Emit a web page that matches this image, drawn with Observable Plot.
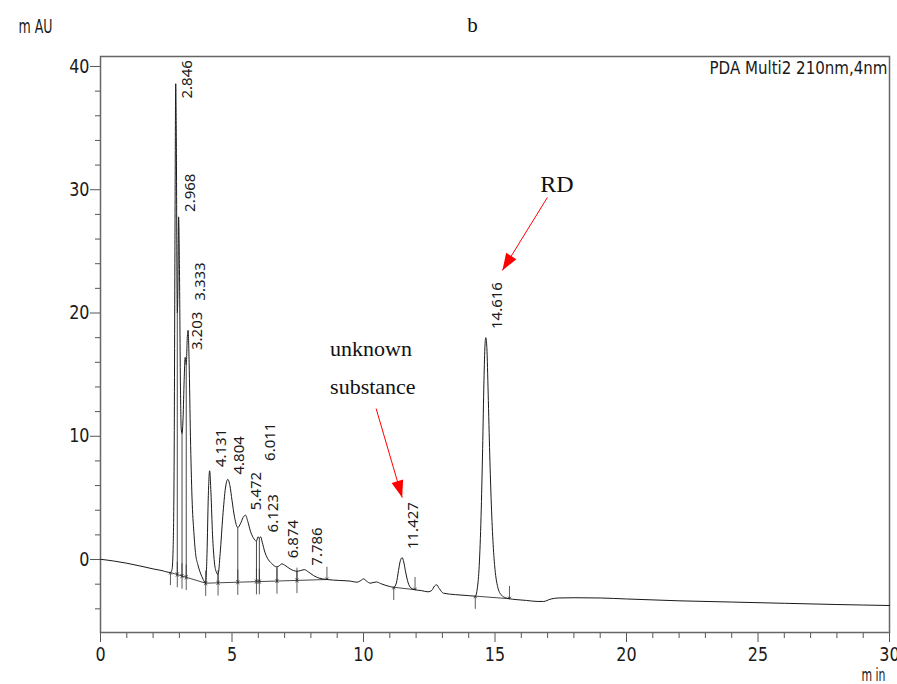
<!DOCTYPE html>
<html><head><meta charset="utf-8">
<script src="https://cdn.jsdelivr.net/npm/d3@7"></script>
<script src="https://cdn.jsdelivr.net/npm/@observablehq/plot@0.6"></script>
<style>
html,body{margin:0;padding:0;background:#fff;}
#chart{width:897px;height:684px;}
</style></head><body><div id="chart"></div>
<script>
// ---- data ----
const traceTime = [0.00,0.50,1.00,1.50,2.00,2.30,2.66,2.72,2.76,2.80,2.83,2.86,2.88,2.92,2.94,2.97,3.00,3.04,3.07,3.10,3.14,3.18,3.22,3.26,3.30,3.33,3.37,3.42,3.48,3.55,3.62,3.70,3.80,3.90,4.00,4.05,4.10,4.15,4.20,4.26,4.33,4.40,4.47,4.55,4.65,4.75,4.84,4.92,5.00,5.10,5.22,5.32,5.42,5.51,5.60,5.70,5.80,5.93,5.99,6.04,6.09,6.15,6.25,6.35,6.50,6.71,6.80,6.90,7.00,7.20,7.47,7.60,7.75,7.90,8.10,8.30,8.61,9.10,9.50,9.75,9.90,10.00,10.12,10.25,10.40,10.50,10.65,10.85,11.00,11.15,11.25,11.33,11.40,11.47,11.53,11.60,11.70,11.80,11.96,12.20,12.45,12.60,12.70,12.78,12.88,13.04,13.50,14.00,14.25,14.33,14.40,14.47,14.53,14.58,14.62,14.65,14.69,14.74,14.80,14.86,14.93,15.00,15.10,15.25,15.40,15.55,15.80,16.20,16.60,16.85,17.10,17.40,18.00,19.00,20.00,22.00,24.00,26.00,28.00,30.00];
const traceSignal = [0.02,-0.12,-0.30,-0.52,-0.76,-0.88,-1.05,-0.8,0.8,8,25,38.6,35,20,21.5,27.8,24,14,10.6,10.2,11.5,14.5,16.4,15.8,18.0,18.6,16,10,5,2.2,0.4,-0.4,-1.1,-1.6,-1.92,0.5,5.2,7.2,5.4,2.0,-0.2,-1.0,-1.2,0.5,3.5,5.8,6.5,6.0,4.8,3.4,2.6,2.9,3.4,3.6,3.1,2.3,1.8,1.5,1.85,1.7,1.85,1.4,0.6,0.1,-0.3,-0.6,-0.5,-0.35,-0.45,-0.75,-0.95,-0.9,-0.82,-1.0,-1.3,-1.5,-1.62,-1.7,-1.75,-1.84,-1.7,-1.57,-1.75,-1.92,-1.85,-1.82,-1.95,-2.1,-2.19,-2.25,-1.9,-0.9,-0.1,0.15,-0.2,-1.0,-1.9,-2.3,-2.45,-2.52,-2.62,-2.5,-2.15,-2.05,-2.35,-2.73,-2.85,-2.93,-2.97,-2.3,-0.5,3.5,9,14.5,17.4,18.0,17.2,13.5,8.5,4.5,1.2,-0.8,-2.2,-2.9,-3.1,-3.18,-3.25,-3.32,-3.4,-3.4,-3.22,-3.12,-3.1,-3.12,-3.2,-3.35,-3.45,-3.55,-3.65,-3.73];

// retention-time labels and the height at which each label starts
const peakTimes = [2.846,2.968,3.203,3.333,4.131,4.804,5.472,6.011,6.123,6.874,7.786,11.427,14.616];
const labelLevels = [37.4,28.2,17.0,21.0,7.5,6.9,4.0,8.0,2.2,0.1,-0.5,0.85,18.7];

// integration baseline segments (group, time, signal)
const baseGroup = [1,1,1,2,2,3,3];
const baseTime = [2.66,4.00,8.61,11.15,11.96,14.25,15.55];
const baseSignal = [-1.05,-1.92,-1.62,-2.25,-2.45,-2.97,-3.18];

// peak boundaries
const boundTime = [2.66,2.92,3.10,3.26,4.00,4.47,5.22,5.93,6.04,6.71,7.47,8.61,11.15,11.96,14.25,15.55];
const boundBase = [-1.05,-1.22,-1.34,-1.44,-1.92,-1.89,-1.84,-1.79,-1.79,-1.74,-1.69,-1.62,-2.25,-2.45,-2.97,-3.18];
const boundKind = ["start","both","both","both","both","both","both","both","both","both","both","end","start","end","start","end"];

// annotations
const noteText = ["unknown","substance","RD"];
const noteTime = [8.73,8.73,16.72];
const noteSignal = [16.5,13.4,29.8];
const pointerFromT = [10.48,16.99];
const pointerFromV = [12.25,29.37];
const pointerToT = [11.47,15.28];
const pointerToV = [5.03,23.45];

const yMajor = [0,10,20,30,40];
const yMinor = [-4,-2,2,4,6,8,12,14,16,18,22,24,26,28,32,34,36,38];
const xMajor = [0,5,10,15,20,25,30];
const xMinor = [1,2,3,4,6,7,8,9,11,12,13,14,16,17,18,19,21,22,23,24,26,27,28,29];

// ---- build ----
const W=897,H=684,mL=100,mR=8,mT=56,mB=52;
const xDomain=[0,30], yDomain=[-5.92,40.81];
const xs = d3.scaleLinear(xDomain,[mL,W-mR]);
const ys = d3.scaleLinear(yDomain,[H-mB,mT]);

const trace = traceTime.map((t,i)=>({t, v:traceSignal[i]}));
const valueAt = t => trace.reduce((a,b)=>Math.abs(b.t-t)<Math.abs(a.t-t)?b:a).v;
const peaks = peakTimes.map((t,i)=>({t, level:labelLevels[i], label:t.toFixed(3)}));
const base = baseTime.map((t,i)=>({t, v:baseSignal[i], g:baseGroup[i]}));
const bounds = boundTime.map((t,i)=>({t, base:boundBase[i], kind:boundKind[i], top:valueAt(t)}));
const drops = bounds.filter(d=>d.top>d.base+0.05);
const starts = bounds.filter(d=>d.kind!=="end");
const ends = bounds.filter(d=>d.kind!=="start");
const notes = noteText.map((s,i)=>({s, t:noteTime[i], v:noteSignal[i]}));
const pointers = pointerFromT.map((t,i)=>{
  const dx = xs(pointerToT[i])-xs(t), dy = ys(pointerToV[i])-ys(pointerFromV[i]);
  return {x1:t, y1:pointerFromV[i], x2:pointerToT[i], y2:pointerToV[i], angle:Math.atan2(dx,-dy)*180/Math.PI};
});
const headSymbol = {draw(ctx){ctx.moveTo(0,0);ctx.lineTo(-6,17);ctx.lineTo(6,17);ctx.closePath();}};

const narrow = "'Liberation Sans Narrow','DejaVu Sans',sans-serif";
const serif = "'Liberation Serif','DejaVu Serif',serif";
const ink = "#1a1a1a";
const arrowLen = 1.0;

const chart = Plot.plot({
  width:W, height:H, marginLeft:mL, marginRight:mR, marginTop:mT, marginBottom:mB,
  x:{domain:xDomain}, y:{domain:yDomain},
  style:{fontFamily:narrow, background:"#fff", color:ink},
  marks:[
    Plot.axisY(yMinor,{tickSize:5, tickFormat:()=>"", label:null, stroke:"#555"}),
    Plot.axisY(yMajor,{tickSize:10, tickPadding:1, label:null, stroke:"#555", fontSize:19, fontFamily:narrow}),
    Plot.axisX(xMinor,{tickSize:6, tickFormat:()=>"", label:null, stroke:"#555"}),
    Plot.axisX(xMajor,{tickSize:10, tickPadding:5, label:null, stroke:"#555", fontSize:19, fontFamily:narrow}),
    Plot.frame({stroke:"#666", strokeWidth:1.5}),
    Plot.line(base,{x:"t", y:"v", z:"g", stroke:"#333", strokeWidth:0.9}),
    Plot.link(drops,{x1:"t", x2:"t", y1:"base", y2:"top", stroke:"#333", strokeWidth:0.9}),
    Plot.arrow(starts,{x1:"t", x2:"t", y1:d=>d.base-arrowLen, y2:"base", stroke:"#333", strokeWidth:0.8, headLength:4, headAngle:70}),
    Plot.arrow(ends,{x1:"t", x2:"t", y1:d=>d.base+arrowLen, y2:"base", stroke:"#333", strokeWidth:0.8, headLength:4, headAngle:70}),
    Plot.line(trace,{x:"t", y:"v", stroke:ink, strokeWidth:1, curve:"monotone-x"}),
    Plot.text(peaks,{x:"t", y:"level", text:"label", rotate:-90, textAnchor:"start", dx:12, fontSize:15, fontFamily:"'Noto Sans',sans-serif", fill:ink}),
    Plot.link(pointers,{x1:"x1", y1:"y1", x2:"x2", y2:"y2", stroke:"#ff0000", strokeWidth:1}),
    Plot.dot(pointers,{x:"x2", y:"y2", symbol:headSymbol, rotate:"angle", fill:"#ff0000", stroke:"none", r:5}),
    Plot.text(notes,{x:"t", y:"v", text:"s", textAnchor:"start", lineAnchor:"bottom", fontFamily:serif, fontSize:d=>d.s==="RD"?24:22, fill:"#111"}),
    Plot.text(["m AU"],{frameAnchor:"top-left", dx:-82, dy:-24, textAnchor:"start", lineAnchor:"bottom", fontSize:19, fontFamily:narrow, fill:ink}),
    Plot.text(["b"],{frameAnchor:"top-left", dx:372, dy:-25, textAnchor:"middle", lineAnchor:"bottom", fontSize:21, fontFamily:serif, fill:"#111"}),
    Plot.text(["PDA Multi2 210nm,4nm"],{frameAnchor:"top-right", dx:-2, dy:17, textAnchor:"end", lineAnchor:"bottom", fontSize:18, fontFamily:narrow, fill:ink}),
    Plot.text(["m in"],{frameAnchor:"bottom-right", dx:-4, dy:48, textAnchor:"end", lineAnchor:"bottom", fontSize:18, fontFamily:narrow, fill:ink})
  ]
});
document.getElementById("chart").appendChild(chart);
// narrow, instrument-style lettering: squeeze the sans texts horizontally
const squeeze = {"m AU":34, "PDA Multi2 210nm,4nm":178, "m in":24};
chart.querySelectorAll("text").forEach(el=>{
  const s = el.textContent;
  const fam = (el.closest("[font-family]")||chart).getAttribute("font-family")||"";
  if (!fam.includes("Narrow") || !s) return;
  const len = el.getComputedTextLength();
  const target = squeeze[s] !== undefined ? squeeze[s] : len*0.84;
  el.setAttribute("textLength", target);
  el.setAttribute("lengthAdjust", "spacingAndGlyphs");
});
</script></body></html>
